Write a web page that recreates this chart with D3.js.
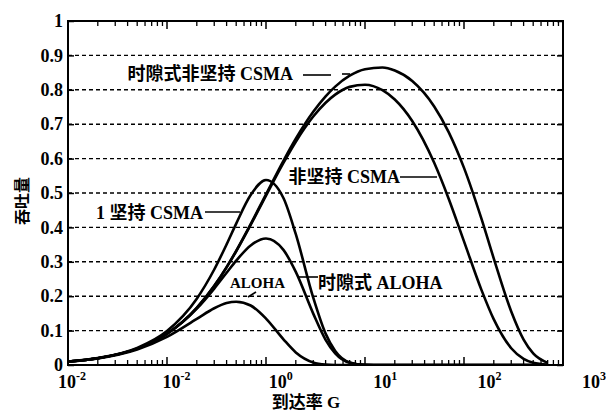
<!DOCTYPE html>
<html><head><meta charset="utf-8">
<script src="https://cdn.jsdelivr.net/npm/d3@7"></script>
<style>body{margin:0;background:#fff}</style>
</head><body><svg id="c" width="606" height="411"></svg>
<script>
// ---- data ----
const G = [0.01,0.02,0.05,0.1,0.2,0.3,0.4,0.5,0.7,1,1.5,2,3,4,5,7,10,15,20,30,50,70,100,150,200,300,400,500,700];
const aloha = [0.0098,0.0192,0.0452,0.0819,0.134,0.165,0.180,0.184,0.173,0.135,0.0747,0.0366,0.0074,0.0013,0.0002,0,0,0,0,0,0,0,0,0,0,0,0,0,0];
const slottedAloha = [0.0099,0.0196,0.0476,0.0905,0.1637,0.2222,0.2681,0.3033,0.3476,0.3679,0.3347,0.2707,0.1494,0.0733,0.0337,0.0064,0.0005,0,0,0,0,0,0,0,0,0,0,0,0];
const persistent1 = [0.0100,0.0200,0.0499,0.0991,0.1929,0.2776,0.3507,0.4111,0.4939,0.5379,0.4855,0.3802,0.1959,0.0912,0.0404,0.0073,0.0005,0,0,0,0,0,0,0,0,0,0,0,0];
const nonpersistent = [0.0099,0.0196,0.0476,0.0907,0.1661,0.2295,0.2838,0.3306,0.4072,0.4925,0.5875,0.6491,0.7223,0.7624,0.7860,0.8085,0.8148,0.7989,0.7717,0.7091,0.5877,0.4835,0.3594,0.2184,0.1326,0.0488,0.0180,0.0066,0.0009];
const slottedNonpersistent = [0.0099,0.0196,0.0476,0.0908,0.1664,0.2302,0.2847,0.3319,0.4095,0.4962,0.5937,0.6578,0.7360,0.7810,0.8093,0.8410,0.8600,0.8648,0.8561,0.8257,0.7517,0.6771,0.5730,0.4254,0.3094,0.1556,0.0739,0.0336,0.0063];
const seriesNames = ["ALOHA","时隙式 ALOHA","1 坚持 CSMA","非坚持 CSMA","时隙式非坚持 CSMA"];
const yTicks = [0,0.1,0.2,0.3,0.4,0.5,0.6,0.7,0.8,0.9,1];
const yTickLabels = ["0","0.1","0.2","0.3","0.4","0.5","0.6","0.7","0.8","0.9","1"];
const xTicks = [0.01,0.1,1,10,100,1000];
const xTickExponents = ["-2","-2","0","1","2","3"]; // as printed in the original
const xTitle = "到达率 G";
const yTitle = "吞吐量";

// ---- layout ----
const L = 68, R = 563, T = 21, B = 365;
const svg = d3.select("#c");
const xs = d3.scaleLog().domain([0.01, 1000]).range([L, R]);
const ys = d3.scaleLinear().domain([0, 1]).range([B, T]);
const xLab = d3.scaleLog().domain([0.01, 1000]).range([72, 594]);
const latin = "'Liberation Serif','Times New Roman',serif";
const cjk = "'Liberation Serif','Noto Sans CJK SC',serif";

// grid
svg.append("g").selectAll("line").data(yTicks.filter(v => v > 0 && v < 1)).join("line")
  .attr("x1", L).attr("x2", R).attr("y1", d => ys(d)).attr("y2", d => ys(d))
  .attr("stroke", "#000").attr("stroke-width", 1.4).attr("stroke-dasharray", "4,3");

// y axis
const yAx = svg.append("g").attr("transform", `translate(${L},0)`)
  .call(d3.axisLeft(ys).tickValues(yTicks).tickSize(-6).tickPadding(5).tickFormat((d,i) => yTickLabels[i]));
yAx.select(".domain").remove();
yAx.selectAll("line").attr("stroke-width", 1.5);
yAx.selectAll("text").attr("font-family", latin).attr("font-weight", "bold").attr("font-size", 18).attr("fill", "#000");
const yAxR = svg.append("g").attr("transform", `translate(${R},0)`)
  .call(d3.axisRight(ys).tickValues(yTicks).tickSize(-6).tickFormat(""));
yAxR.select(".domain").remove();
yAxR.selectAll("line").attr("stroke-width", 1.5);

// x axis ticks (major + minor) bottom and top
const minor = [];
for (let e = -2; e < 3; e++) for (let k = 2; k <= 9; k++) minor.push(k * Math.pow(10, e));
[B, T].forEach(yy => {
  const dir = yy === B ? -1 : 1;
  svg.append("g").selectAll("line").data(minor).join("line")
    .attr("x1", d => xs(d)).attr("x2", d => xs(d)).attr("y1", yy).attr("y2", yy + dir * 5)
    .attr("stroke", "#000").attr("stroke-width", 1.3);
  svg.append("g").selectAll("line").data(xTicks).join("line")
    .attr("x1", d => xs(d)).attr("x2", d => xs(d)).attr("y1", yy).attr("y2", yy + dir * 8)
    .attr("stroke", "#000").attr("stroke-width", 1.5);
});
const xl = svg.append("g").selectAll("text").data(xTicks).join("text")
  .attr("x", d => xLab(d)).attr("y", 388).attr("text-anchor", "middle")
  .attr("font-family", latin).attr("font-weight", "bold").attr("font-size", 18);
xl.append("tspan").text("10");
xl.append("tspan").attr("dy", -8).attr("font-size", 12).text((d,i) => xTickExponents[i]);

// frame
svg.append("rect").attr("x", L).attr("y", T).attr("width", R - L).attr("height", B - T)
  .attr("fill", "none").attr("stroke", "#000").attr("stroke-width", 2);

// curves
svg.append("clipPath").attr("id", "clip").append("rect")
  .attr("x", L).attr("y", T - 2).attr("width", R - L).attr("height", B - T + 2);
const line = d3.line().x(d => xs(d[0])).y(d => ys(d[1])).curve(d3.curveMonotoneX);
[aloha, slottedAloha, persistent1, nonpersistent, slottedNonpersistent].forEach((s, i) => {
  svg.append("path").datum(G.map((g, j) => [g, s[j]]))
    .attr("clip-path", "url(#clip)")
    .attr("d", line).attr("fill", "none").attr("stroke", "#000").attr("stroke-width", 2.6)
    .attr("stroke-linejoin", "round").attr("class", "series-" + i);
});

// annotations
function label(txt, x, y, anchor, size) {
  svg.append("text").attr("x", x).attr("y", y).attr("text-anchor", anchor)
    .attr("font-family", cjk).attr("font-weight", "bold").attr("font-size", size).attr("fill", "#000").text(txt);
}
function seg(x1, y1, x2, y2) {
  svg.append("line").attr("x1", x1).attr("y1", y1).attr("x2", x2).attr("y2", y2)
    .attr("stroke", "#000").attr("stroke-width", 1.6);
}
label(seriesNames[4], 293, 80, "end", 18);
seg(303, 75, 331, 75); seg(342, 74, 350, 74);
label(seriesNames[3], 400, 183, "end", 18);
seg(400, 177, 437, 177);
label(seriesNames[2], 203, 219, "end", 18);
seg(205, 212, 240, 212);
label(seriesNames[0], 230, 288, "start", 15);
seg(248, 297, 256, 292);
seg(298, 277, 318, 277);
label(seriesNames[1], 318, 289, "start", 18);

// axis titles
svg.append("text").attr("x", 306).attr("y", 408).attr("text-anchor", "middle")
  .attr("font-family", cjk).attr("font-weight", "bold").attr("font-size", 17).text(xTitle);
svg.append("text").attr("transform", "translate(28,201) rotate(-90)").attr("text-anchor", "middle")
  .attr("font-family", cjk).attr("font-weight", "bold").attr("font-size", 16).text(yTitle);
</script></body></html>
